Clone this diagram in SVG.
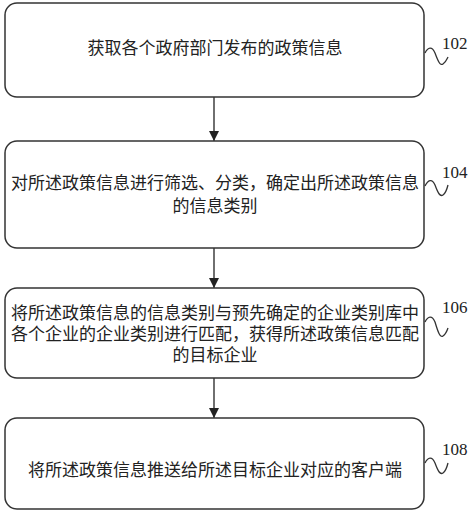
<svg xmlns="http://www.w3.org/2000/svg" width="474" height="514" viewBox="0 0 474 514">
<defs>
<style>
.box{fill:#fff;stroke:#333;stroke-width:1.5}
.t{font-family:"Liberation Serif","Noto Sans CJK SC",serif;font-size:17px;fill:#222;text-anchor:middle;dominant-baseline:central}
.lbl{font-family:"Liberation Serif",serif;font-size:17px;fill:#222}
.sq{fill:none;stroke:#333;stroke-width:1.3}
.conn{stroke:#222;stroke-width:1.3;fill:none}
</style>
<marker id="ah" viewBox="0 0 10 10" refX="10" refY="5" markerWidth="10" markerHeight="10" markerUnits="userSpaceOnUse" orient="auto">
<path d="M0,0 L10,5 L0,10 Z" fill="#222"/>
</marker>
</defs>
<rect width="474" height="514" fill="#fff"/>
<g id="connectors">
<line class="conn" x1="214" y1="97" x2="214" y2="141" marker-end="url(#ah)"/>
<line class="conn" x1="214" y1="248" x2="214" y2="288" marker-end="url(#ah)"/>
<line class="conn" x1="214" y1="378" x2="214" y2="418" marker-end="url(#ah)"/>
</g>
<g id="n102">
<rect class="box" x="5" y="3" width="419" height="94" rx="12"/>
<text class="t" x="215" y="48">获取各个政府部门发布的政策信息</text>
<path class="sq" d="M425,53 C428,47 432,46 435,53 C438,61 440,66 443,64 C446,62 447,59 448,57"/>
<text class="lbl" x="442" y="49">102</text>
</g>
<g id="n104">
<rect class="box" x="5" y="141" width="419" height="107" rx="12"/>
<text class="t" x="215" y="183">对所述政策信息进行筛选、分类，确定出所述政策信息</text>
<text class="t" x="215" y="206">的信息类别</text>
<path class="sq" d="M425,186 C428,180 432,178 435,185 C438,193 440,197 443,195 C446,193 447,189 448,185"/>
<text class="lbl" x="442" y="178">104</text>
</g>
<g id="n106">
<rect class="box" x="5" y="288" width="419" height="90" rx="12"/>
<text class="t" x="215" y="313">将所述政策信息的信息类别与预先确定的企业类别库中</text>
<text class="t" x="215" y="334">各个企业的企业类别进行匹配，获得所述政策信息匹配</text>
<text class="t" x="215" y="355">的目标企业</text>
<path class="sq" d="M425,322 C428,316 432,315 435,322 C438,332 440,338 443,336 C446,334 447,331 448,328"/>
<text class="lbl" x="442" y="313">106</text>
</g>
<g id="n108">
<rect class="box" x="5" y="418" width="419" height="91" rx="12"/>
<text class="t" x="215" y="470">将所述政策信息推送给所述目标企业对应的客户端</text>
<path class="sq" d="M425,463 C428,457 432,456 435,463 C438,471 440,475 443,473 C446,471 447,467 448,463"/>
<text class="lbl" x="442" y="455">108</text>
</g>
</svg>
